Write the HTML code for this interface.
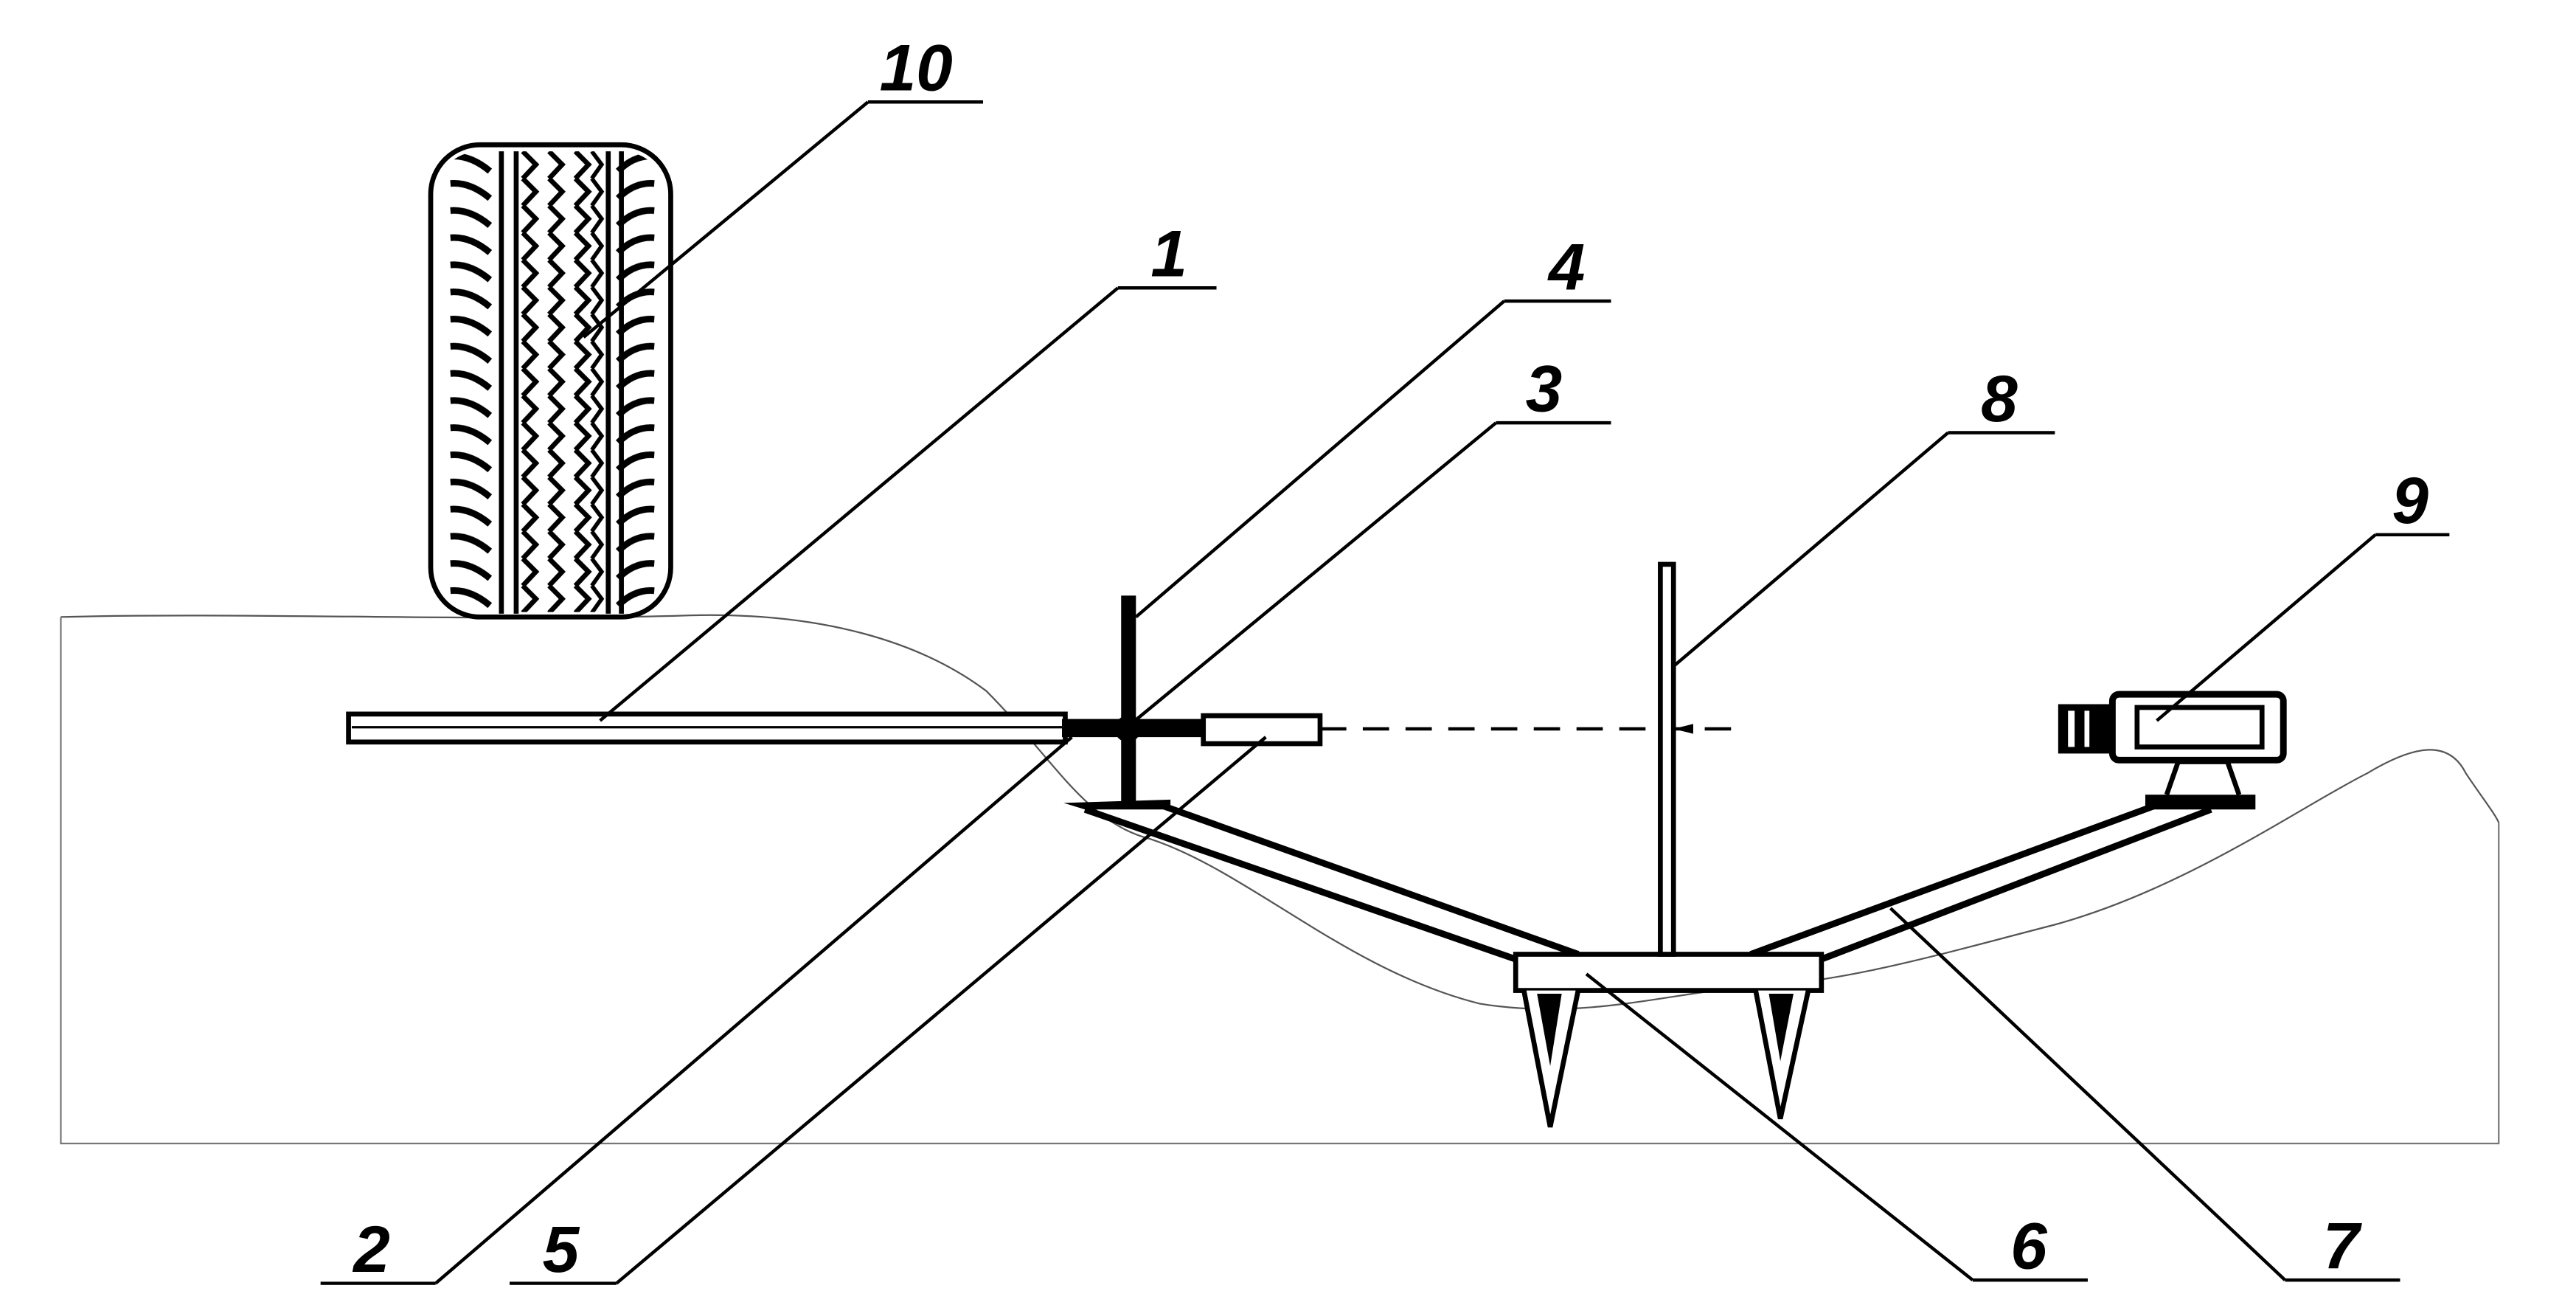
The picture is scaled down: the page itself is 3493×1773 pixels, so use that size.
<!DOCTYPE html>
<html><head><meta charset="utf-8"><style>
html,body{margin:0;padding:0;background:#fff;}
svg{display:block;}
text{font-family:"Liberation Sans",sans-serif;font-weight:bold;font-style:italic;font-size:40px;fill:#000;}
</style></head><body>
<svg width="3493" height="1773" viewBox="0 0 1567 795" preserveAspectRatio="none" xmlns="http://www.w3.org/2000/svg">
<defs>
<pattern id="tread" x="264" y="92" width="146" height="16.5" patternUnits="userSpaceOnUse">
 <path d="M10 3 Q22 2 34 12" stroke="#000" stroke-width="4" fill="none"/>
 <path d="M134 3 Q122 2 112 12" stroke="#000" stroke-width="4" fill="none"/>
 <path d="M54 0 L62 8 L54 16.5" stroke="#000" stroke-width="3" fill="none"/>
 <path d="M70 0 L78 8 L70 16.5" stroke="#000" stroke-width="3" fill="none"/>
 <path d="M86 0 L94 8 L86 16.5" stroke="#000" stroke-width="3" fill="none"/>
 <path d="M96 0 L102 8 L96 16.5" stroke="#000" stroke-width="2.5" fill="none"/>
</pattern>
</defs>
<rect width="1567" height="795" fill="#fff"/>
<path d="M37 375 C150 372 300 378 420 374 C500 372 560 390 600 420 C640 460 660 500 700 510 C760 530 820 590 900 610 C960 620 1010 605 1060 600 C1120 598 1180 580 1250 562 C1330 540 1400 490 1440 470 C1470 452 1490 450 1500 470 C1510 485 1518 495 1520 500"
 stroke="#555" stroke-width="1" fill="none"/>
<path d="M37 375 L37 695 L1520 695 L1520 500" stroke="#777" stroke-width="1" fill="none"/>
<rect x="262" y="88" width="146" height="287" rx="30" fill="#fff" stroke="#000" stroke-width="3"/>
<rect x="264" y="92" width="142" height="280" rx="28" fill="url(#tread)"/>
<line x1="305" y1="92" x2="305" y2="373" stroke="#000" stroke-width="3"/>
<line x1="314" y1="92" x2="314" y2="373" stroke="#000" stroke-width="3"/>
<line x1="370" y1="92" x2="370" y2="373" stroke="#000" stroke-width="3"/>
<line x1="378" y1="92" x2="378" y2="373" stroke="#000" stroke-width="3"/>
<rect x="212" y="434" width="436" height="17" fill="#fff" stroke="#000" stroke-width="3"/>
<line x1="214" y1="442" x2="646" y2="442" stroke="#000" stroke-width="1.5"/>
<rect x="646" y="437" width="86" height="11" fill="#000"/>
<rect x="682" y="362" width="9" height="128" fill="#000"/>
<circle cx="686" cy="443" r="8" fill="#000"/>
<rect x="732" y="435" width="71" height="17" fill="#fff" stroke="#000" stroke-width="3"/>
<line x1="803" y1="443" x2="1060" y2="443" stroke="#000" stroke-width="2" stroke-dasharray="16,10"/>
<polygon points="647,488 712,486 712,492 660,492" fill="#000"/>
<path d="M660 492 L922 583 M708 490 L960 580" stroke="#000" stroke-width="4" fill="none"/>
<path d="M1065 580 L1310 490 M1108 583 L1345 492" stroke="#000" stroke-width="4" fill="none"/>
<rect x="922" y="580" width="186" height="22" fill="#fff" stroke="#000" stroke-width="3"/>
<rect x="1010" y="343" width="8" height="237" fill="#fff" stroke="#000" stroke-width="3"/>
<path d="M1018 443 L1030 440 L1030 446 Z" fill="#000"/>
<path d="M927 602 L943 685 L960 602" fill="#fff" stroke="#000" stroke-width="3"/>
<path d="M935 604 L943 648 L950 604 Z" fill="#000"/>
<path d="M1068 602 L1083 680 L1100 602" fill="#fff" stroke="#000" stroke-width="3"/>
<path d="M1076 604 L1083 645 L1091 604 Z" fill="#000"/>
<rect x="1305" y="483" width="67" height="9" fill="#000"/>
<path d="M1318 483 L1325 463 L1355 463 L1362 483" fill="#fff" stroke="#000" stroke-width="3"/>
<rect x="1285" y="422" width="104" height="40" rx="4" fill="#fff" stroke="#000" stroke-width="4"/>
<rect x="1300" y="430" width="76" height="24" fill="#fff" stroke="#000" stroke-width="3"/>
<rect x="1252" y="428" width="34" height="30" fill="#000"/>
<rect x="1258" y="432" width="4" height="22" fill="#fff"/>
<rect x="1268" y="432" width="3" height="22" fill="#fff"/>
<g stroke="#000" stroke-width="2" fill="none">
<path d="M528 62 L598 62 M528 62 L355 205"/>
<path d="M680 175 L740 175 M680 175 L365 438"/>
<path d="M915 183 L980 183 M915 183 L691 375"/>
<path d="M910 257 L980 257 M910 257 L688 440"/>
<path d="M1185 263 L1250 263 M1185 263 L1018 405"/>
<path d="M1445 325 L1490 325 M1445 325 L1312 438"/>
<path d="M195 780 L265 780 M265 780 L652 448"/>
<path d="M310 780 L375 780 M375 780 L770 448"/>
<path d="M1200 778 L1270 778 M1200 778 L965 592"/>
<path d="M1390 778 L1460 778 M1390 778 L1150 552"/>
</g>
<text x="535" y="55">10</text>
<text x="700" y="168">1</text>
<text x="942" y="176">4</text>
<text x="928" y="250">3</text>
<text x="1205" y="256">8</text>
<text x="1455" y="318">9</text>
<text x="215" y="773">2</text>
<text x="330" y="773">5</text>
<text x="1223" y="771">6</text>
<text x="1413" y="771">7</text>
</svg>
</body></html>
